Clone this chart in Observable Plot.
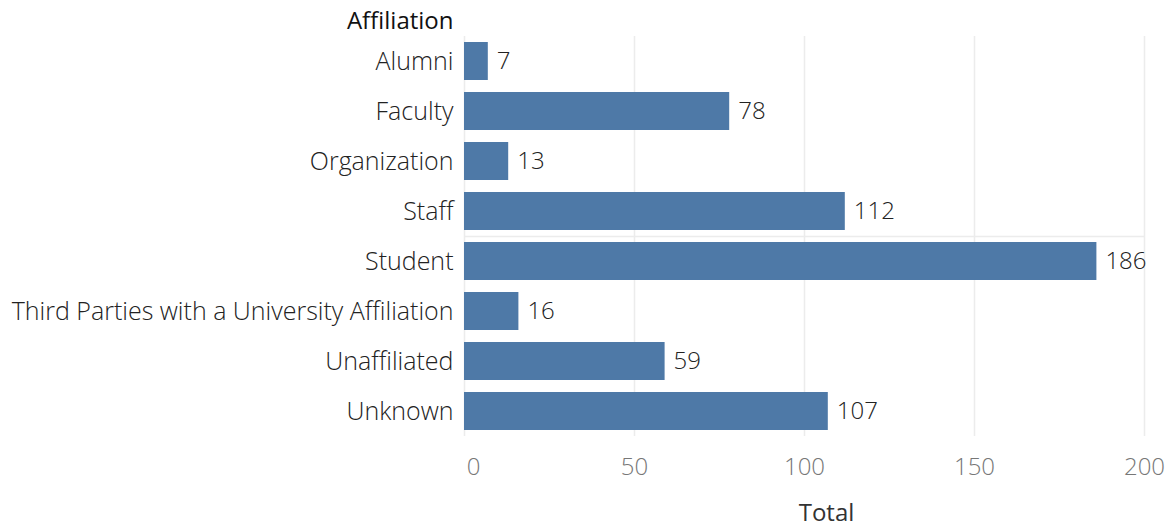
<!DOCTYPE html>
<html>
<head>
<meta charset="utf-8">
<script src="https://cdn.jsdelivr.net/npm/d3@7"></script>
<script src="https://cdn.jsdelivr.net/npm/@observablehq/plot@0.6"></script>
<style>
  html, body { margin: 0; padding: 0; background: #fff; }
  #chart svg { display: block; }
</style>
</head>
<body>
<div id="chart"></div>
<script>
const categories = ["Alumni", "Faculty", "Organization", "Staff", "Student", "Third Parties with a University Affiliation", "Unaffiliated", "Unknown"];
const totals = [7, 78, 13, 112, 186, 16, 59, 107];
const xTicks = [0, 50, 100, 150, 200];
const yTitle = "Affiliation";
const xTitle = "Total";

const data = categories.map((c, i) => ({affiliation: c, total: totals[i]}));
const FONT = "Open Sans, sans-serif";

const chart = Plot.plot({
  width: 1172,
  height: 527,
  marginLeft: 464,
  marginRight: 28,
  marginTop: 36,
  marginBottom: 91,
  style: {fontFamily: FONT, background: "#fff"},
  x: {domain: [0, 200]},
  y: {domain: categories, paddingInner: 0.24, paddingOuter: 0.12},
  marks: [
    Plot.gridX(xTicks, {stroke: "#ececec", strokeOpacity: 1, strokeWidth: 1.5}),
    Plot.ruleY([0], {frameAnchor: "bottom", y: null, stroke: "#ececec", strokeWidth: 1.5}),
    Plot.barX(data, {x: "total", y: "affiliation", fill: "#4e79a7"}),
    Plot.text(data, {x: "total", y: "affiliation", text: d => String(d.total), dx: 8.5, textAnchor: "start", fill: "#222", fontSize: 24, fontWeight: 300}),
    Plot.axisY({tickSize: 0, tickPadding: 11, fontSize: 25, fill: "#222", fontWeight: 300, label: null}),
    Plot.axisX(xTicks.filter(t => t !== 0), {tickSize: 0, tickPadding: 21, fontSize: 24, fill: "#777", fontWeight: 300, label: null}),
    Plot.axisX(xTicks.filter(t => t === 0), {tickSize: 0, tickPadding: 21, dx: 9, fontSize: 24, fill: "#777", fontWeight: 300, label: null}),
    Plot.text([yTitle], {frameAnchor: "top-left", dx: -11, dy: -25, textAnchor: "end", fontSize: 24, fontWeight: 500, fill: "#111"}),
    Plot.text([xTitle], {frameAnchor: "bottom", dx: 22, dy: 84, fontSize: 24, fontWeight: 500, fill: "#333"})
  ]
});
document.getElementById("chart").appendChild(chart);
</script>
</body>
</html>
